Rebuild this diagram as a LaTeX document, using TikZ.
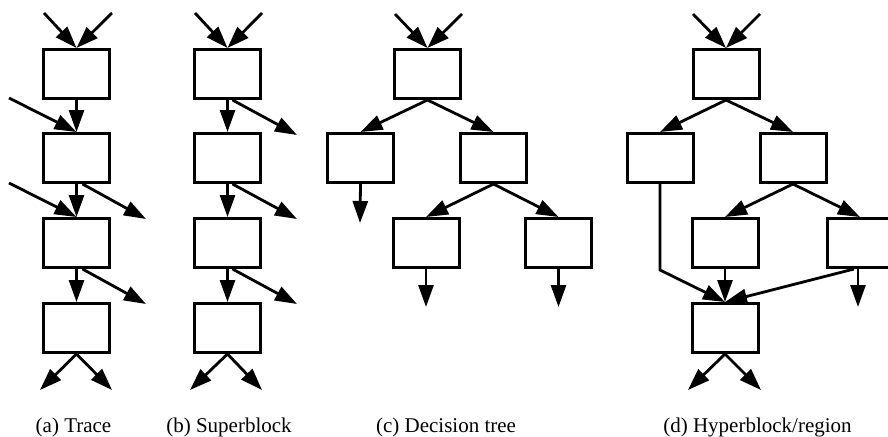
\documentclass[tikz,border=0pt]{standalone}
\usepackage{fontspec}
\setmainfont{Liberation Serif}
\usetikzlibrary{arrows.meta}
\begin{document}
\begin{tikzpicture}[x=1pt,y=-1pt,
  blk/.style={draw,line width=3pt,minimum width=66pt,minimum height=49pt,inner sep=0pt},
  arr/.style={line width=2.8pt,-{Triangle[length=22pt,width=15pt]}},
  lbl/.style={font=\fontsize{21}{25}\selectfont,anchor=base}]
\useasboundingbox (0,0) rectangle (888,436);
\clip (0,0) rectangle (888,436);

% ---------- (a) Trace ----------
\node[blk] (a1) at (76.5,74) {};
\node[blk] (a2) at (76.5,158) {};
\node[blk] (a3) at (76.5,243) {};
\node[blk] (a4) at (76.5,328) {};
\coordinate (ain1) at (44,13);
\coordinate (ain2) at (112,13);
\coordinate (aside2) at (9,98);
\coordinate (aside3) at (9,183);
\coordinate (aex2) at (146,219);
\coordinate (aex3) at (146,304);
\coordinate (aout1) at (40,390);
\coordinate (aout2) at (112,390);
\draw[arr] (ain1) -- (a1.north);
\draw[arr] (ain2) -- (a1.north);
\draw[arr] (a1.south) -- (a2.north);
\draw[arr] (aside2) -- (a2.north);
\draw[arr] (a2.south) -- (a3.north);
\draw[arr] (aside3) -- (a3.north);
\draw[arr] ([xshift=6pt]a2.south) -- (aex2);
\draw[arr] (a3.south) -- (a4.north);
\draw[arr] ([xshift=6pt]a3.south) -- (aex3);
\draw[arr] (a4.south) -- (aout1);
\draw[arr] (a4.south) -- (aout2);
\node[lbl] (acap) at (73.5,432) {(a) Trace};

% ---------- (b) Superblock ----------
\node[blk] (b1) at (227.5,74) {};
\node[blk] (b2) at (227.5,158) {};
\node[blk] (b3) at (227.5,243) {};
\node[blk] (b4) at (227.5,328) {};
\coordinate (bin1) at (195,13);
\coordinate (bin2) at (262,13);
\coordinate (bex1) at (297,135);
\coordinate (bex2) at (297,219);
\coordinate (bex3) at (297,304);
\coordinate (bout1) at (190,390);
\coordinate (bout2) at (262,390);
\draw[arr] (bin1) -- (b1.north);
\draw[arr] (bin2) -- (b1.north);
\draw[arr] (b1.south) -- (b2.north);
\draw[arr] (b2.south) -- (b3.north);
\draw[arr] (b3.south) -- (b4.north);
\draw[arr] ([xshift=5pt]b1.south) -- (bex1);
\draw[arr] ([xshift=5pt]b2.south) -- (bex2);
\draw[arr] ([xshift=5pt]b3.south) -- (bex3);
\draw[arr] (b4.south) -- (bout1);
\draw[arr] (b4.south) -- (bout2);
\node[lbl] (bcap) at (229,432) {(b) Superblock};

% ---------- (c) Decision tree ----------
\node[blk] (c1) at (427.5,74) {};
\node[blk] (c2) at (360.5,158) {};
\node[blk] (c3) at (493.5,158) {};
\node[blk] (c4) at (426,243) {};
\node[blk] (c5) at (558.5,243) {};
\coordinate (cin1) at (395,14);
\coordinate (cin2) at (462,14);
\coordinate (cout2) at (360,223);
\coordinate (cout4) at (426,307);
\coordinate (cout5) at (558.5,307);
\draw[arr] (cin1) -- (c1.north);
\draw[arr] (cin2) -- (c1.north);
\draw[arr] (c1.south) -- (c2.north);
\draw[arr] (c1.south) -- (c3.north);
\draw[arr] (c3.south) -- (c4.north);
\draw[arr] (c3.south) -- (c5.north);
\draw[arr] (c2.south) -- (cout2);
\draw[arr] (c4.south) -- (cout4);
\draw[arr] (c5.south) -- (cout5);
\node[lbl] (ccap) at (446,432) {(c) Decision tree};

% ---------- (d) Hyperblock/region ----------
\node[blk] (d1) at (726,74) {};
\node[blk] (d2) at (660,158) {};
\node[blk] (d3) at (793,158) {};
\node[blk] (d4) at (725,243) {};
\node[blk] (d5) at (860,243) {};
\node[blk] (d6) at (725,328) {};
\coordinate (din1) at (693,14);
\coordinate (din2) at (760,14);
\coordinate (dbend) at (660,270);
\coordinate (dout5) at (858,307);
\coordinate (dout1) at (688,390);
\coordinate (dout2) at (761,390);
\draw[arr] (din1) -- (d1.north);
\draw[arr] (din2) -- (d1.north);
\draw[arr] (d1.south) -- (d2.north);
\draw[arr] (d1.south) -- (d3.north);
\draw[arr] (d3.south) -- (d4.north);
\draw[arr] (d3.south) -- (d5.north);
\draw[arr] (d4.south) -- (d6.north);
\draw[arr] (d2.south) -- (dbend) -- (d6.north);
\draw[arr] ([xshift=-6pt]d5.south) -- (d6.north);
\draw[arr] ([xshift=-2pt]d5.south) -- (dout5);
\draw[arr] (d6.south) -- (dout1);
\draw[arr] (d6.south) -- (dout2);
\node[lbl] (dcap) at (757.5,432) {(d) Hyperblock/region};
\end{tikzpicture}
\end{document}
